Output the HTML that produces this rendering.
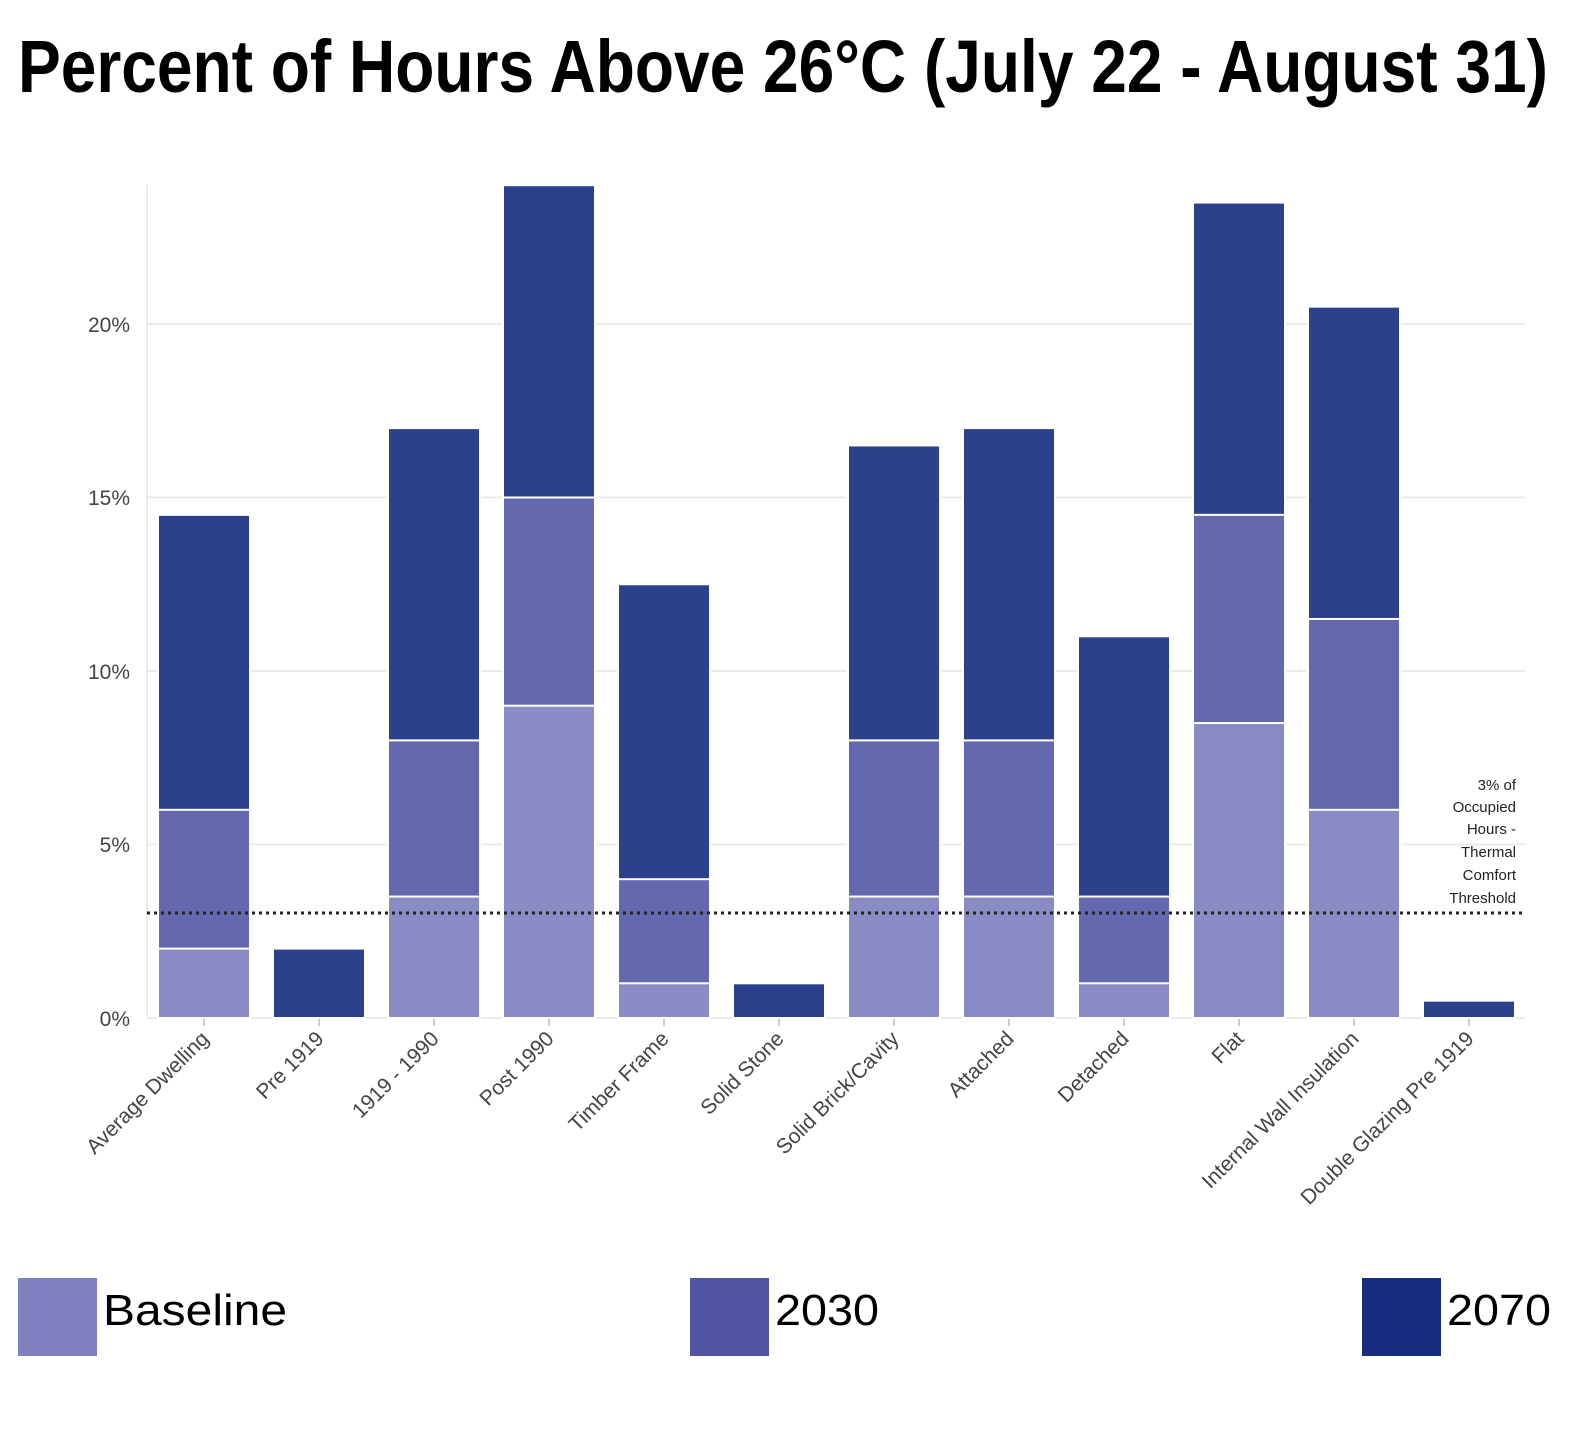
<!DOCTYPE html>
<html><head><meta charset="utf-8"><style>body{margin:0;background:#fff}</style></head><body>
<svg width="1592" height="1450" xmlns="http://www.w3.org/2000/svg" font-family="Liberation Sans, sans-serif">
<rect width="1592" height="1450" fill="#fff"/>
<text x="18" y="92" font-family="Liberation Sans Narrow, Liberation Sans, sans-serif" font-weight="bold" font-size="74" textLength="1530" lengthAdjust="spacingAndGlyphs" fill="#000">Percent of Hours Above 26°C (July 22 - August 31)</text>
<g stroke="#ebebeb" stroke-width="2">
<line x1="147" x2="1525" y1="1018" y2="1018"/><line x1="147" x2="1525" y1="844.5" y2="844.5"/><line x1="147" x2="1525" y1="671" y2="671"/><line x1="147" x2="1525" y1="497.5" y2="497.5"/><line x1="147" x2="1525" y1="324" y2="324"/>
<line x1="147" x2="147" y1="185" y2="1018"/>
</g>
<g font-size="21" fill="#444" text-anchor="end">
<text x="130" y="1026">0%</text><text x="130" y="852">5%</text><text x="130" y="679">10%</text><text x="130" y="505">15%</text><text x="130" y="332">20%</text>
</g>
<g id="bars" stroke="#fff" stroke-width="2"></g>
<line x1="147" x2="1525" y1="913" y2="913" stroke="#222" stroke-width="3" stroke-dasharray="3,4"/>
<g font-size="15" fill="#222" text-anchor="end">
<text x="1516" y="790">3% of</text><text x="1516" y="812">Occupied</text><text x="1516" y="834">Hours -</text><text x="1516" y="857">Thermal</text><text x="1516" y="880">Comfort</text><text x="1516" y="903">Threshold</text>
</g>
<g id="labels" font-size="21" fill="#444" text-anchor="end"></g>
<rect x="18" y="1278" width="79" height="78" fill="#7f80c0"/>
<text x="103" y="1325" font-size="44" fill="#000" textLength="184" lengthAdjust="spacingAndGlyphs">Baseline</text>
<rect x="690" y="1278" width="79" height="78" fill="#5155a3"/>
<text x="775" y="1325" font-size="44" fill="#000" textLength="104" lengthAdjust="spacingAndGlyphs">2030</text>
<rect x="1362" y="1278" width="79" height="78" fill="#162d80"/>
<text x="1447" y="1325" font-size="44" fill="#000" textLength="104" lengthAdjust="spacingAndGlyphs">2070</text>
<script>
var d=[["Average Dwelling",2,6,14.5],["Pre 1919",0,0,2],["1919 - 1990",3.5,8,17],["Post 1990",9,15,24],["Timber Frame",1,4,12.5],["Solid Stone",0,0,1],["Solid Brick/Cavity",3.5,8,16.5],["Attached",3.5,8,17],["Detached",1,3.5,11],["Flat",8.5,14.5,23.5],["Internal Wall Insulation",6,11.5,20.5],["Double Glazing Pre 1919",0,0,0.5]];
var ns="http://www.w3.org/2000/svg",b=document.getElementById("bars"),l=document.getElementById("labels");
function Y(v){return 1018-v*34.7;}
var cols=["#8a8bc4","#6468ae","#2c418c"];
d.forEach(function(r,i){var cx=204+i*115;
for(var k=3;k>=1;k--){var v=r[k];if(v<=0)continue;var e=document.createElementNS(ns,"rect");e.setAttribute("x",cx-46);e.setAttribute("width",92);e.setAttribute("y",Y(v));e.setAttribute("height",Y(0)-Y(v));e.setAttribute("fill",cols[k-1]);b.appendChild(e);}
var t=document.createElementNS(ns,"line");t.setAttribute("x1",cx);t.setAttribute("x2",cx);t.setAttribute("y1",1019);t.setAttribute("y2",1026);t.setAttribute("stroke","#ccc");t.setAttribute("stroke-width",2);b.parentNode.appendChild(t);
var tx=document.createElementNS(ns,"text");tx.setAttribute("transform","translate("+(cx+6)+",1040) rotate(-45)");tx.textContent=r[0];l.appendChild(tx);});
</script>
</svg>
</body></html>
